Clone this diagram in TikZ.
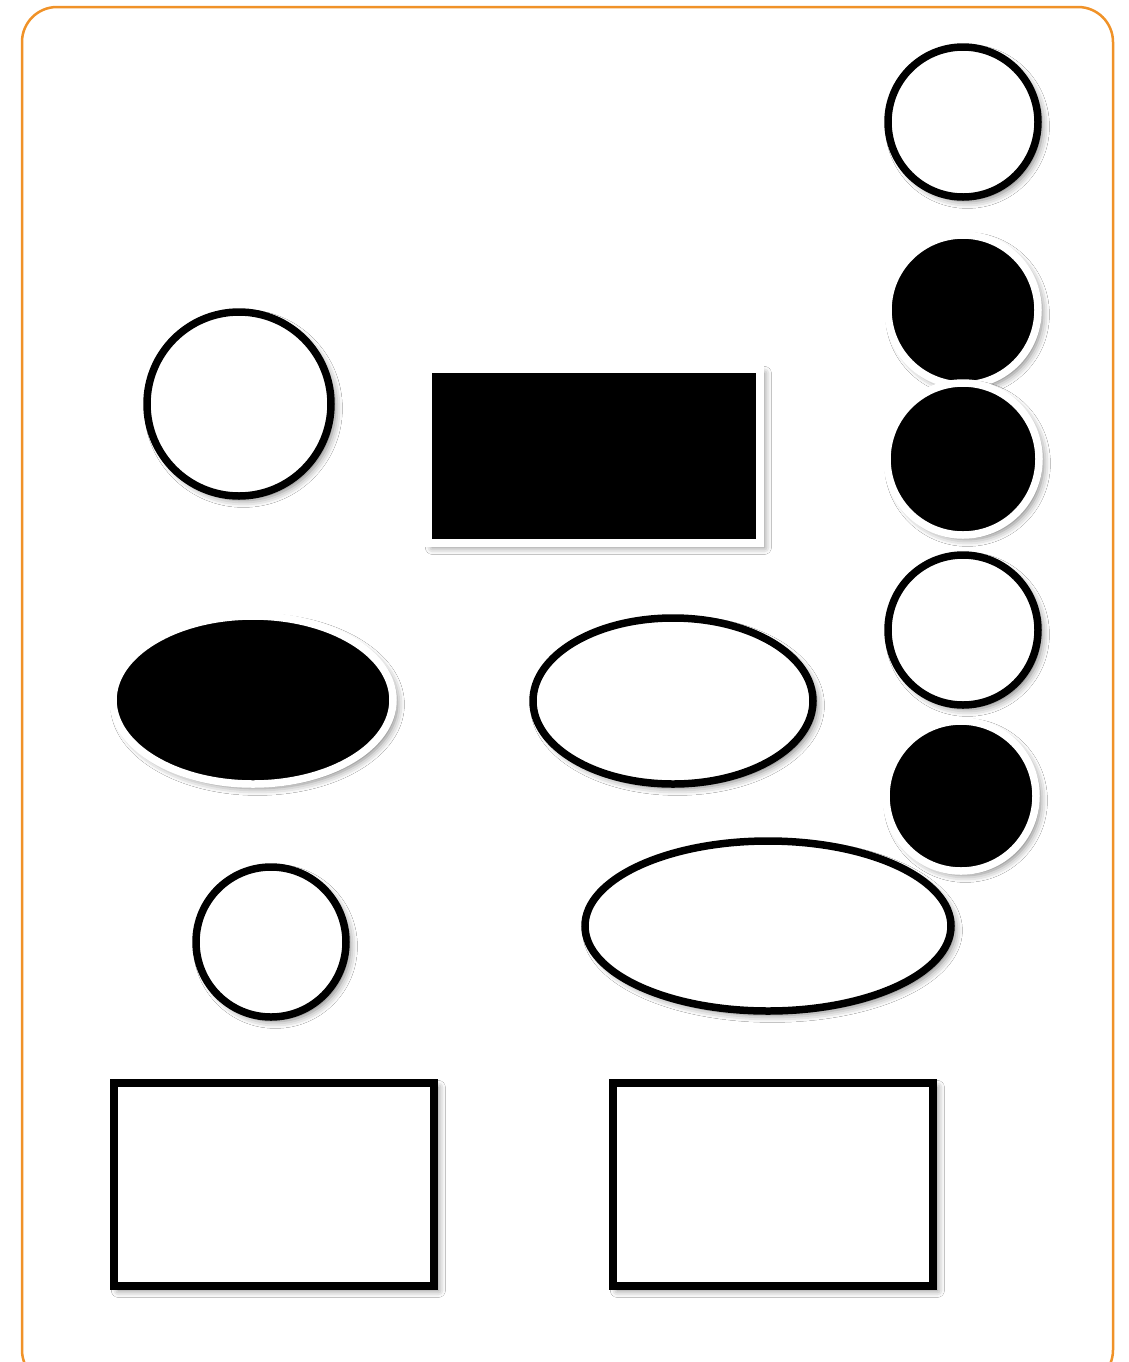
\documentclass[tikz,border=0pt]{standalone}
\usetikzlibrary{shapes.geometric,shadows.blur}
\definecolor{frameorange}{RGB}{240,146,40}
\tikzset{
  sh/.style={blur shadow={shadow xshift=2.5pt,shadow yshift=-2.5pt,shadow blur radius=4pt,shadow opacity=50}},
  wshape/.style={draw=black,fill=white,line width=0.15cm,inner sep=0pt,sh},
  bshape/.style={draw=white,fill=black,line width=0.15cm,inner sep=0pt,sh},
  circ/.style={circle,minimum size=#1},
  ell/.style 2 args={ellipse,minimum width=#1,minimum height=#2},
  box/.style 2 args={rectangle,minimum width=#1,minimum height=#2},
}
\begin{document}
\begin{tikzpicture}
\useasboundingbox (0,0) rectangle (22.56,-27.24);
\clip (0,0) rectangle (22.56,-27.24);
\fill[white] (0,0) rectangle (22.56,-27.24);
\draw[frameorange,line width=0.05cm,rounded corners=0.7cm] (0.44,-0.14) rectangle (22.26,-27.7);
% right column
\node[wshape,circ=3cm] (c1) at (19.26,-2.44) {};
\node[bshape,circ=3cm] (c2) at (19.26,-6.2) {};
\node[bshape,circ=3.04cm] (c3) at (19.26,-9.18) {};
\node[wshape,circ=3cm] (c4) at (19.26,-12.6) {};
\node[bshape,circ=3cm] (c5) at (19.22,-15.92) {};
% left and middle
\node[wshape,circ=3.68cm] (c6) at (4.78,-8.08) {};
\node[bshape,box={6.64cm}{3.48cm}] (r1) at (11.88,-9.12) {};
\node[bshape,ell={5.6cm}{3.36cm}] (e1) at (5.06,-14.0) {};
\node[wshape,ell={5.6cm}{3.32cm}] (e2) at (13.46,-14.02) {};
\node[wshape,circ=3cm] (c7) at (5.42,-18.84) {};
\node[wshape,ell={7.32cm}{3.4cm}] (e3) at (15.36,-18.52) {};
\node[wshape,box={6.4cm}{4.06cm}] (r2) at (5.48,-23.69) {};
\node[wshape,box={6.4cm}{4.06cm}] (r3) at (15.46,-23.69) {};
\end{tikzpicture}
\end{document}
